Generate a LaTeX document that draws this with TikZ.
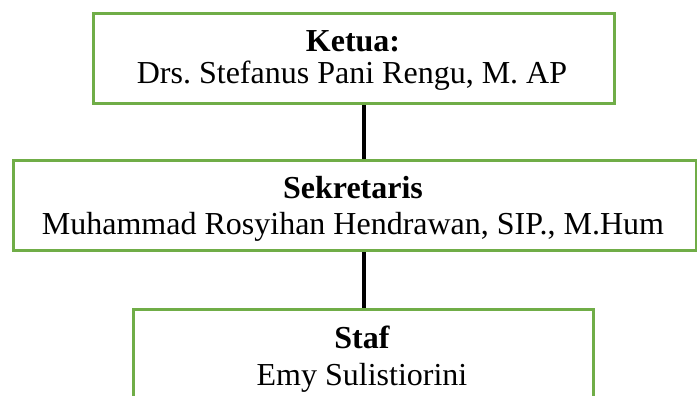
\documentclass[tikz,border=0pt]{standalone}
\usepackage{fontspec}
\setmainfont{Liberation Serif}
\definecolor{boxgreen}{RGB}{112,173,71}
\begin{document}
\frenchspacing
\begin{tikzpicture}[x=1pt,y=-1pt,
  orgbox/.style={draw=boxgreen,line width=3pt,fill=white,rectangle,inner sep=0pt,anchor=north west},
  label/.style={anchor=base,inner sep=0pt,font=\fontsize{32}{36}\selectfont},
  link/.style={draw=black,line width=4pt}]
\useasboundingbox (0,0) rectangle (697,396);
\clip (0,0) rectangle (697,396);
\node[orgbox,minimum width=521pt,minimum height=90pt] (b1) at (92,12) {};
\node[orgbox,minimum width=683pt,minimum height=90pt] (b2) at (12,159) {};
\node[orgbox,minimum width=460pt,minimum height=120pt] (b3) at (132,308) {};
\draw[link] (b1.south -| b3.north) -- (b2.north -| b3.north);
\draw[link] (b2.south -| b3.north) -- (b3.north);
\node[label,font=\fontsize{32}{36}\selectfont\bfseries] (t1a) at (353,52) {Ketua:};
\node[label] (t1b) at (352,84) {Drs. Stefanus Pani Rengu, M. AP};
\node[label,font=\fontsize{32}{36}\selectfont\bfseries] (t2a) at (353,198) {Sekretaris};
\node[label] (t2b) at (353,234) {Muhammad Rosyihan Hendrawan, SIP., M.Hum};
\node[label,font=\fontsize{32}{36}\selectfont\bfseries] (t3a) at (362,348) {Staf};
\node[label] (t3b) at (362,385) {Emy Sulistiorini};
\end{tikzpicture}
\end{document}
